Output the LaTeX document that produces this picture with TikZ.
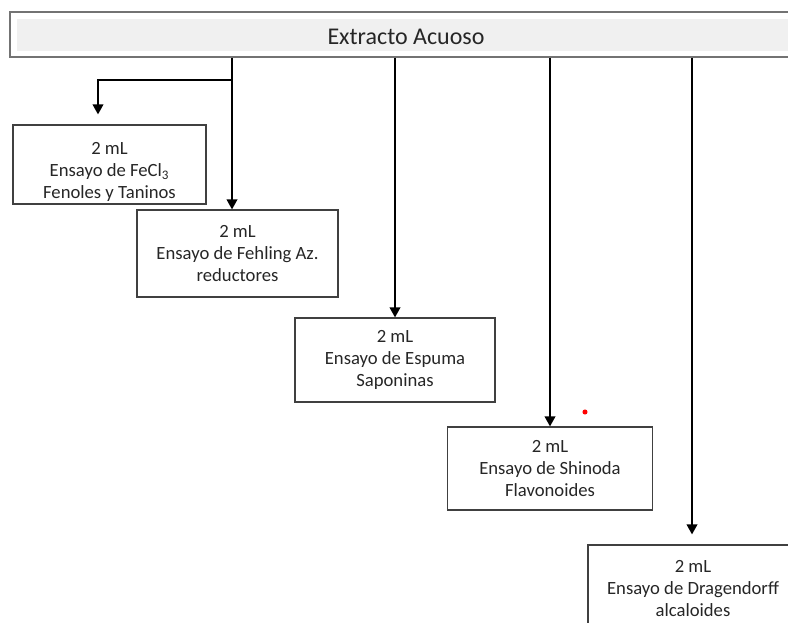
\documentclass[tikz,border=0pt]{standalone}
\usepackage{fontspec}
\setmainfont{Carlito}
\usetikzlibrary{arrows.meta,calc}

\begin{document}
\begin{tikzpicture}[x=0.75pt,y=-0.75pt]
\path [use as bounding box] (0,0) rectangle (788,623);
\clip (0,0) rectangle (788,623);
\tikzstyle{every node} = [font=\fontsize{14}{16.5}\selectfont, text=black!85, align=center, inner sep=0pt]
\tikzstyle{box} = [draw=black!75, line width=0.9pt]
\tikzstyle{flow} = [line width=1.2pt, -{Triangle[width=8pt,length=7.5pt]}]
\node[draw=black!55, line width=0.9pt, minimum width=660pt, minimum height=33.75pt] (extracto) at (450,34.5) {};
\fill[black!6] ([xshift=6pt,yshift=-6pt]extracto.north west) rectangle ([xshift=-6pt,yshift=5.25pt]extracto.south east);
\node[font=\fontsize{18}{20}\selectfont] (titulo) at (406,37) {Extracto Acuoso};
\node[box, minimum width=144.75pt, minimum height=59.25pt] (b1) at (109.5,164.5) {\rule{0pt}{21pt}2 mL\\Ensayo de FeCl\textsubscript{3}\\Fenoles y Taninos};
\node[box, minimum width=150.75pt, minimum height=65.25pt] (b2) at (237.5,253.5) {2 mL\\Ensayo de Fehling Az.\\reductores};
\node[box, minimum width=150pt, minimum height=63pt] (b3) at (395,360) {2 mL\\Ensayo de Espuma\\Saponinas};
\node[box, minimum width=153.75pt, minimum height=62.25pt] (b4) at (550,468.5) {2 mL\\Ensayo de Shinoda\\Flavonoides};
\node[box, minimum width=157.5pt, minimum height=66pt] (b5) at (693,589) {2 mL\\Ensayo de Dragendorff\\alcaloides};
\coordinate (split) at (232,80);
\coordinate (turn) at (98,80);
\coordinate (drop) at (692,80);
\draw[flow] (extracto.south -| split) -- (b2.north -| split);
\draw[flow, shorten >=7.5pt] (split) -- (turn) -- (b1.north -| turn);
\draw[flow] (extracto.south -| b3.north) -- (b3.north);
\draw[flow] (extracto.south -| b4.north) -- (b4.north);
\draw[flow, shorten >=7.5pt] (extracto.south -| drop) -- (b5.north -| drop);
\fill[red] (585,412) circle[radius=1.9pt];
\end{tikzpicture}
\end{document}
